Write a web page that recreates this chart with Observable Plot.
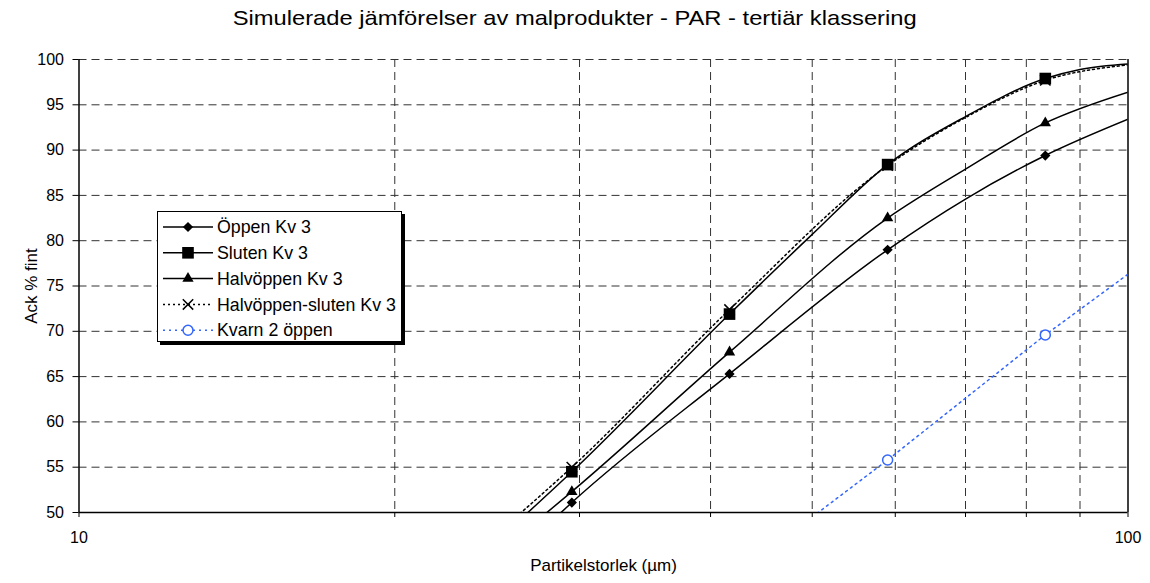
<!DOCTYPE html>
<html><head><meta charset="utf-8">
<script src="https://cdn.jsdelivr.net/npm/d3@7"></script>
<script src="https://cdn.jsdelivr.net/npm/@observablehq/plot@0.6"></script>
<style>
body{margin:0;background:#fff;font-family:"Liberation Sans",Arial,sans-serif;}
#wrap{position:relative;width:1150px;height:583px;overflow:hidden;background:#fff;}
#title{height:36px;line-height:36px;text-align:center;color:#000;white-space:nowrap;}
#title span{display:inline-block;font-size:21px;transform:scaleX(1.13);transform-origin:center;}
#legend{position:absolute;left:157px;top:211px;width:245px;height:131px;border:1px solid #000;background:#fff;box-shadow:3px 3px 0 #000;box-sizing:border-box;}
#legend svg{display:block;}
</style></head>
<body><div id="wrap"><div id="title"><span>Simulerade jämförelser av malprodukter - PAR - tertiär klassering</span></div><div id="chart"></div><div id="legend"></div></div>
<script>
// Sieve sizes with markers (µm)
const sizes = [29.5, 41.7, 59, 83.4];
const oppen = [51.1, 65.3, 79.0, 89.4];
const sluten = [54.5, 71.9, 88.4, 97.9];
const halvoppen = [52.3, 67.7, 82.5, 93.0];
const halvSluten = [55.0, 72.4, 88.3, 97.7];
const kvarnSizes = [59, 83.4];
const kvarn2 = [55.8, 69.6];

// Fitted curves
const oppenCurveX = [28.5, 29.5, 41.7, 59, 70, 83.4, 100];
const oppenCurveY = [49.5, 51.1, 65.3, 79.0, 84.6, 89.4, 93.4];
const slutenCurveX = [26.5, 29.5, 41.7, 49.8, 59, 70, 83.4, 90, 100];
const slutenCurveY = [49.5, 54.5, 71.9, 80.5, 88.4, 93.7, 97.9, 98.9, 99.5];
const halvoppenCurveX = [27.6, 29.5, 41.7, 59, 70, 83.4, 100];
const halvoppenCurveY = [49.5, 52.3, 67.7, 82.5, 87.9, 93.0, 96.4];
const halvSlutenCurveX = [26.1, 29.5, 41.7, 59, 70, 83.4, 100];
const halvSlutenCurveY = [49.5, 55.0, 72.4, 88.3, 93.6, 97.7, 99.4];
const kvarnCurveX = [50, 59, 83.4, 100];
const kvarnCurveY = [49.5, 55.8, 69.6, 76.3];

const seriesNames = ["Öppen Kv 3", "Sluten Kv 3", "Halvöppen Kv 3", "Halvöppen-sluten Kv 3", "Kvarn 2 öppen"];
const yTicks = [50, 55, 60, 65, 70, 75, 80, 85, 90, 95, 100];
const xTicks = [10, 20, 30, 40, 50, 60, 70, 80, 90, 100];
const xLabels = [10, 100];
const xTitle = "Partikelstorlek (µm)";
const yTitle = "Ack % fint";

const rows = (xs, ys) => xs.map((x, i) => ({x, y: ys[i]}));
const blue = "#3366ff";
const styles = [
  {symbol: "diamond2", r: 4.6, fill: "#000", stroke: "none", line: "#000", dash: null},
  {symbol: "square2", r: 7.4, fill: "#000", stroke: "none", line: "#000", dash: null},
  {symbol: "triangle2", r: 5.4, fill: "#000", stroke: "none", line: "#000", dash: null},
  {symbol: "times", r: 4.8, fill: "none", stroke: "#000", line: "#000", dash: "2,3"},
  {symbol: "circle", r: 5, fill: "none", stroke: blue, line: blue, dash: "2,4"}
];
const curves = [
  rows(oppenCurveX, oppenCurveY), rows(slutenCurveX, slutenCurveY),
  rows(halvoppenCurveX, halvoppenCurveY), rows(halvSlutenCurveX, halvSlutenCurveY),
  rows(kvarnCurveX, kvarnCurveY)
];
const points = [
  rows(sizes, oppen), rows(sizes, sluten), rows(sizes, halvoppen),
  rows(sizes, halvSluten), rows(kvarnSizes, kvarn2)
];

const lineMarks = curves.map((c, i) => Plot.line(c, {
  x: "x", y: "y", curve: i === 4 ? "linear" : "monotone-x",
  stroke: styles[i].line, strokeWidth: 1.5,
  strokeDasharray: styles[i].dash || undefined, clip: true
}));
const dotMarks = points.map((p, i) => Plot.dot(p, {
  x: "x", y: "y", symbol: styles[i].symbol, r: styles[i].r,
  fill: i === 4 ? "#fff" : styles[i].fill, stroke: styles[i].stroke, strokeWidth: i >= 3 ? 1.5 : 1
}));

const chart = Plot.plot({
  width: 1150, height: 547,
  marginTop: 23, marginBottom: 71, marginLeft: 78.5, marginRight: 22.5,
  style: {fontFamily: "Liberation Sans, Arial, sans-serif", fontSize: "16px", color: "#000", background: "#fff", overflow: "visible"},
  x: {type: "log", domain: [10, 100]},
  y: {domain: [50, 100]},
  marks: [
    Plot.gridY(yTicks.slice(1), {stroke: "#333", strokeOpacity: 1, strokeDasharray: "8,5"}),
    Plot.gridX(xTicks.slice(1, -1), {stroke: "#333", strokeOpacity: 1, strokeDasharray: "8,5"}),
    Plot.ruleY([50], {stroke: "#000", strokeWidth: 1.5}),
    Plot.ruleX([10], {stroke: "#000", strokeWidth: 1.5}),
    Plot.ruleX([100], {stroke: "#000", strokeWidth: 1.5}),
    Plot.axisY(yTicks, {tickSize: 6, tickPadding: 9, fontSize: 16, stroke: "#000", label: null}),
    Plot.axisX(xTicks, {tickSize: 5, tickPadding: 14, fontSize: 16, stroke: "#000", tickFormat: d => xLabels.includes(d) ? String(d) : "", label: null}),
    Plot.text([yTitle], {frameAnchor: "left", textAnchor: "middle", lineAnchor: "middle", dx: -47.5, rotate: -90, fontSize: 17, fill: "#000"}),
    Plot.text([xTitle], {frameAnchor: "bottom", textAnchor: "middle", lineAnchor: "middle", dy: 53, fontSize: 17, fill: "#000"}),
    ...lineMarks,
    ...dotMarks
  ]
});
document.getElementById("chart").appendChild(chart);

// Legend
const lw = 243, lh = 129;
const lsvg = d3.select("#legend").append("svg").attr("width", lw).attr("height", lh)
  .style("font-family", "Liberation Sans, Arial, sans-serif");
const rowY = i => 15 + i * 25.8;
const typeMap = {diamond2: d3.symbolDiamond2, square2: d3.symbolSquare2, triangle2: d3.symbolTriangle2, times: d3.symbolTimes, circle: d3.symbolCircle};
seriesNames.forEach((name, i) => {
  const s = styles[i];
  const g = lsvg.append("g").attr("transform", `translate(0,${rowY(i)})`);
  g.append("line").attr("x1", 5).attr("x2", 55).attr("y1", 0).attr("y2", 0)
    .attr("stroke", s.line).attr("stroke-width", 1.5).attr("stroke-dasharray", s.dash);
  g.append("path").attr("transform", "translate(30,0)")
    .attr("d", d3.symbol(typeMap[s.symbol], Math.PI * s.r * s.r)())
    .attr("fill", i === 4 ? "#fff" : s.fill).attr("stroke", s.stroke).attr("stroke-width", i >= 3 ? 1.5 : 1);
  g.append("text").attr("x", 59).attr("y", 0).attr("dy", "0.35em")
    .attr("font-size", 17.8).attr("fill", "#000").text(name);
});
</script>
</body></html>
